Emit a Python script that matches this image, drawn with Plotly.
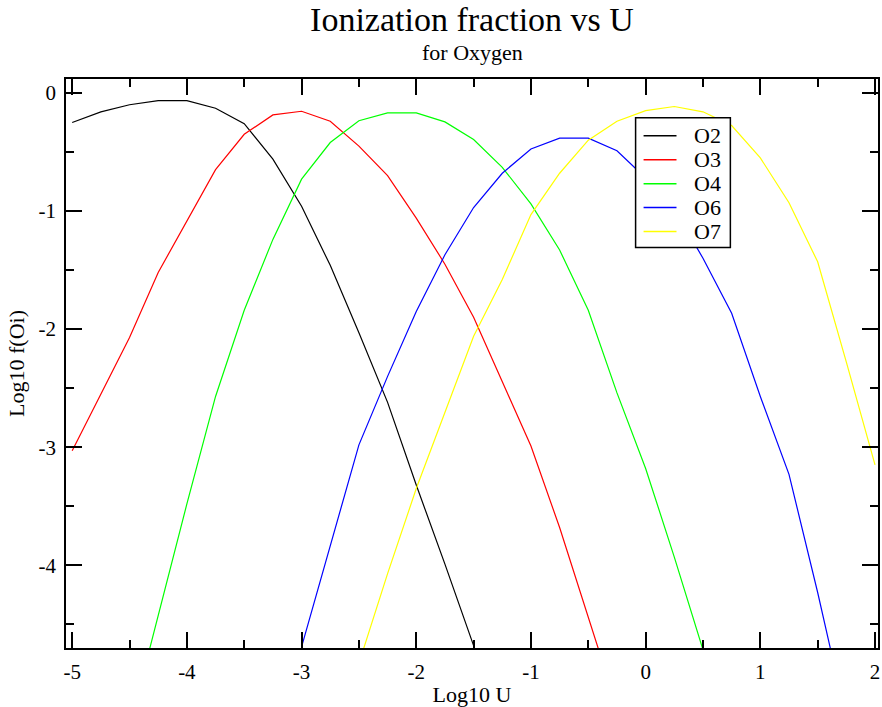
import plotly.graph_objects as go

# Ionization fractions of oxygen ions as a function of the ionization parameter
log_u = [-5.0, -4.75, -4.5, -4.25, -4.0, -3.75, -3.5, -3.25, -3.0, -2.75,
         -2.5, -2.25, -2.0, -1.75, -1.5, -1.25, -1.0, -0.75, -0.5, -0.25,
         0.0, 0.25, 0.5, 0.75, 1.0, 1.25, 1.5, 1.75, 2.0]

o2 = [-0.25, -0.16, -0.10, -0.065, -0.065, -0.13, -0.26, -0.56, -0.96, -1.46,
      -2.03, -2.62, -3.32, -3.99, -4.68, -5.40, None, None, None, None,
      None, None, None, None, None, None, None, None, None]
o3 = [-3.03, -2.55, -2.07, -1.52, -1.08, -0.65, -0.35, -0.186, -0.155, -0.24,
      -0.45, -0.70, -1.06, -1.45, -1.90, -2.45, -2.99, -3.68, -4.43, -5.20,
      None, None, None, None, None, None, None, None, None]
o4 = [None, None, -5.37, -4.42, -3.48, -2.57, -1.84, -1.24, -0.73, -0.42,
      -0.235, -0.169, -0.169, -0.245, -0.395, -0.63, -0.94, -1.33, -1.84, -2.54,
      -3.18, -3.93, -4.74, -5.50, None, None, None, None, None]
o6 = [None, None, None, None, None, None, None, None, -4.69, -3.83,
      -2.98, -2.40, -1.85, -1.37, -0.97, -0.68, -0.475, -0.383, -0.383, -0.49,
      -0.72, -0.98, -1.40, -1.865, -2.57, -3.23, -4.23, -5.30, None]
o7 = [None, None, None, None, None, None, None, None, None, None,
      -4.83, -4.07, -3.35, -2.70, -2.06, -1.58, -1.03, -0.68, -0.40, -0.24,
      -0.15, -0.115, -0.16, -0.276, -0.55, -0.93, -1.43, -2.28, -3.15]

series_names = ["O2", "O3", "O4", "O6", "O7"]
series_values = [o2, o3, o4, o6, o7]
series_colors = ["#000000", "#ff0000", "#00ff00", "#0000ff", "#ffff00"]

x_ticks = [-5, -4, -3, -2, -1, 0, 1, 2]
x_tick_labels = ["-5", "-4", "-3", "-2", "-1", "0", "1", "2"]
y_ticks = [0, -1, -2, -3, -4]
y_tick_labels = ["0", "-1", "-2", "-3", "-4"]

# Figure geometry (pixels)
W, H = 882, 707
ML, MR, MT, MB = 66, 2, 79, 57
PW, PH = W - ML - MR, H - MT - MB

FONT = "Liberation Serif, Times New Roman, serif"

fig = go.Figure()
for name, vals, col in zip(series_names, series_values, series_colors):
    fig.add_trace(go.Scatter(x=log_u, y=vals, mode="lines", name=name,
                             line=dict(color=col, width=1.2),
                             connectgaps=False, showlegend=False))

axis_common = dict(
    showgrid=False, zeroline=False, showline=True, linecolor="#000000",
    linewidth=1.5, mirror="allticks", ticks="inside", ticklen=16,
    tickwidth=1.5, tickcolor="#000000",
    tickfont=dict(family=FONT, size=21, color="#000000"),
    minor=dict(ticks="inside", ticklen=8, tickwidth=1.5, tickcolor="#000000",
               dtick=0.5, showgrid=False),
)

fig.update_xaxes(range=[-5.054, 2.026], tickmode="array", tickvals=x_ticks,
                 ticktext=x_tick_labels, ticklabelstandoff=4,
                 title=dict(text="Log10 U", standoff=6,
                            font=dict(family=FONT, size=22, color="#000000")),
                 **axis_common)
fig.update_yaxes(range=[-4.70, 0.118], tickmode="array", tickvals=y_ticks,
                 ticktext=y_tick_labels, ticklabelstandoff=4,
                 title=dict(text="Log10 f(Oi)", standoff=8,
                            font=dict(family=FONT, size=22, color="#000000")),
                 **axis_common)

# Legend box drawn in pixel space and converted to paper coordinates
def px_x(p):
    return (p - ML) / PW

def px_y(p):
    return (H - MB - p) / PH

LEG_L, LEG_T, LEG_R, LEG_B = 637, 118, 732, 248
ROW0, ROW_STEP = 136, 24
shapes = [dict(type="rect", xref="paper", yref="paper",
               x0=px_x(LEG_L), x1=px_x(LEG_R), y0=px_y(LEG_B), y1=px_y(LEG_T),
               line=dict(color="#000000", width=1.5), fillcolor="#ffffff",
               layer="above")]
annotations = []
for i, (name, col) in enumerate(zip(series_names, series_colors)):
    yy = ROW0 + i * ROW_STEP
    shapes.append(dict(type="line", xref="paper", yref="paper",
                       x0=px_x(645), x1=px_x(678), y0=px_y(yy), y1=px_y(yy),
                       line=dict(color=col, width=1.5), layer="above"))
    annotations.append(dict(text=name, xref="paper", yref="paper",
                            x=px_x(694), y=px_y(yy), xanchor="left",
                            yanchor="middle", showarrow=False,
                            font=dict(family=FONT, size=22, color="#000000")))

annotations.append(dict(text="for Oxygen", xref="paper", yref="paper",
                        x=0.5, y=px_y(52), xanchor="center", yanchor="middle",
                        showarrow=False,
                        font=dict(family=FONT, size=22, color="#000000")))

fig.update_layout(
    width=W, height=H,
    margin=dict(l=ML, r=MR, t=MT, b=MB),
    paper_bgcolor="#ffffff", plot_bgcolor="#ffffff",
    title=dict(text="Ionization fraction vs U", x=0.5, xref="paper",
               xanchor="center", y=1 - 19 / H, yref="container",
               yanchor="middle",
               font=dict(family=FONT, size=34, color="#000000")),
    shapes=shapes, annotations=annotations,
    showlegend=False,
)

fig.write_html("out.html")
